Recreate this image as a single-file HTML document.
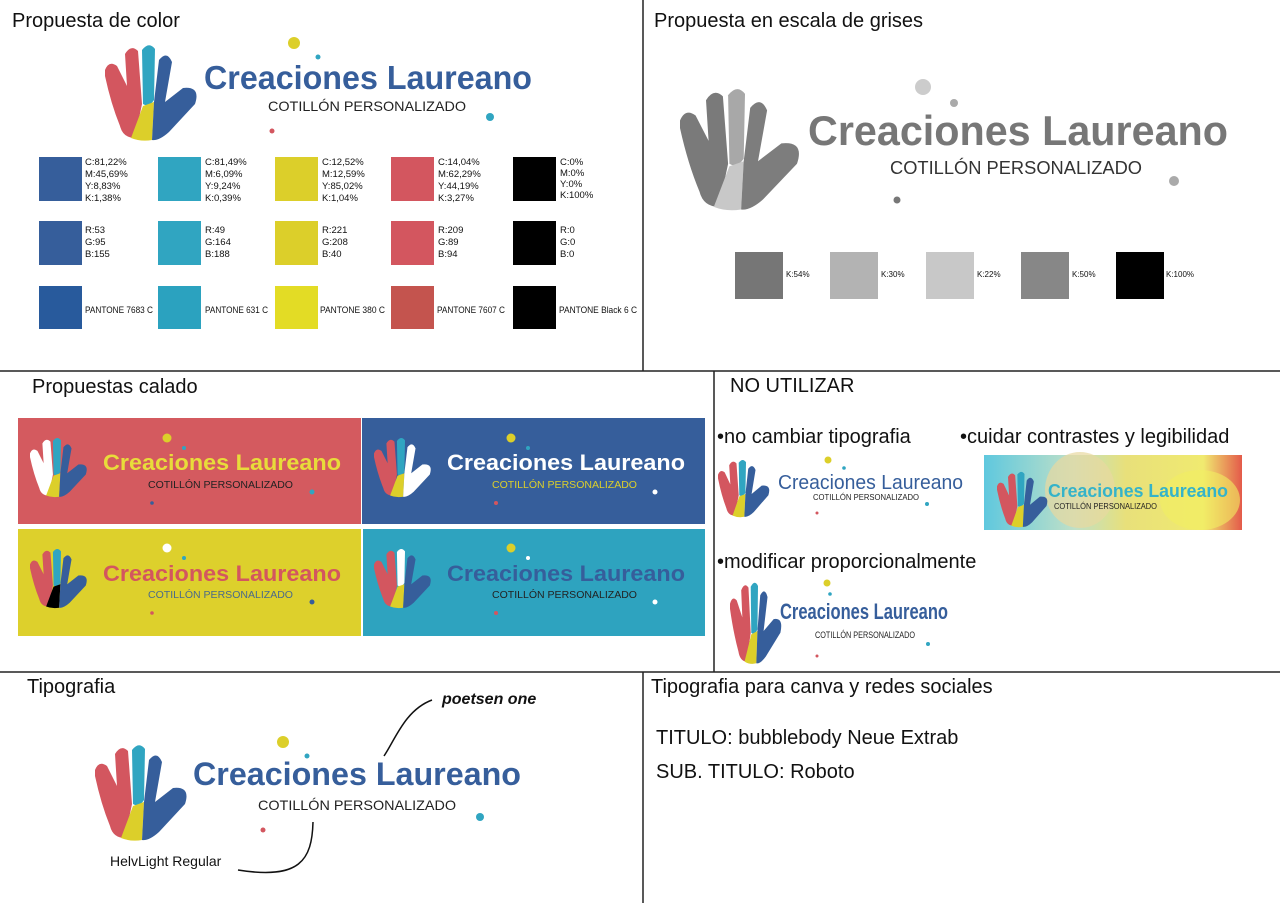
<!DOCTYPE html>
<html><head><meta charset="utf-8"><style>
html,body{margin:0;padding:0;background:#fff}
svg{display:block}
text{font-family:"Liberation Sans",sans-serif}
.h{font-size:20px;fill:#111}
.s{font-size:9.5px;fill:#111}
.t{font-weight:bold}
</style></head><body>
<svg width="1280" height="903" viewBox="0 0 1280 903" xmlns="http://www.w3.org/2000/svg">
<defs>
<symbol id="hand" viewBox="0 0 100 100" preserveAspectRatio="none">
<path style="fill:var(--r,#d3565f)" d="M0,28 Q4,18 12,24 L22,44 L20,12 Q26,2 33,9 L37,62 L30,96 Q18,96 15,84 Q6,62 0,34 Z"/>
<path style="fill:var(--c,#30a5c1)" d="M37,8 Q44,-1 50,7 L49,58 Q44,66 38,62 Z"/>
<path style="fill:var(--y,#dccf2a)" d="M38,64 L49,60 L47,98 Q36,100 26,96 Z"/>
<path style="fill:var(--b,#365e9b)" d="M54,18 Q62,8 67,20 L60,60 L78,46 Q96,44 90,62 L64,90 Q54,99 47,98 L49,60 Z"/>
</symbol>
<linearGradient id="pic" x1="0" x2="1" y1="0" y2="0"><stop offset="0" stop-color="#5fc8de"/><stop offset="0.35" stop-color="#bfe0c8"/><stop offset="0.55" stop-color="#e8e07a"/><stop offset="0.85" stop-color="#f0ea70"/><stop offset="1" stop-color="#e45a4a"/></linearGradient>
</defs>

<g stroke="#222" stroke-width="1.5">
<line x1="643" y1="0" x2="643" y2="371"/>
<line x1="0" y1="371" x2="1280" y2="371"/>
<line x1="714" y1="371" x2="714" y2="672"/>
<line x1="0" y1="672" x2="1280" y2="672"/>
<line x1="643" y1="672" x2="643" y2="903"/>
</g>

<text class="h" x="12" y="27">Propuesta de color</text>
<text class="h" x="654" y="27">Propuesta en escala de grises</text>
<text class="h" x="32" y="393">Propuestas calado</text>
<text class="h" x="730" y="392">NO UTILIZAR</text>
<text class="h" x="717" y="443" font-size="19">•no cambiar tipografia</text>
<text class="h" x="960" y="443" font-size="19">•cuidar contrastes y legibilidad</text>
<text class="h" x="717" y="568" font-size="19">•modificar proporcionalmente</text>
<text class="h" x="27" y="693">Tipografia</text>
<text class="h" x="651" y="693">Tipografia para canva y redes sociales</text>

<use href="#hand" x="105" y="42" width="100" height="100"/>
<text class="t" x="204" y="89" font-size="33" fill="#365e9b" textLength="328" lengthAdjust="spacingAndGlyphs">Creaciones Laureano</text>
<text x="268" y="111" font-size="14" fill="#222" textLength="198" lengthAdjust="spacingAndGlyphs">COTILLÓN PERSONALIZADO</text>
<circle cx="294" cy="43" r="6" fill="#dccf2a"/><circle cx="318" cy="57" r="2.5" fill="#30a5c1"/><circle cx="490" cy="117" r="4" fill="#30a5c1"/><circle cx="272" cy="131" r="2.5" fill="#d3565f"/>

<g>
<rect x="39" y="157" width="43" height="44" fill="#365e9b"/><rect x="39" y="221" width="43" height="44" fill="#365e9b"/><rect x="39" y="286" width="43" height="43" fill="#285a9c"/>
<rect x="158" y="157" width="43" height="44" fill="#30a5c1"/><rect x="158" y="221" width="43" height="44" fill="#30a5c1"/><rect x="158" y="286" width="43" height="43" fill="#2ba2bf"/>
<rect x="275" y="157" width="43" height="44" fill="#dccf2a"/><rect x="275" y="221" width="43" height="44" fill="#dccf2a"/><rect x="275" y="286" width="43" height="43" fill="#e3dc25"/>
<rect x="391" y="157" width="43" height="44" fill="#d3565f"/><rect x="391" y="221" width="43" height="44" fill="#d3565f"/><rect x="391" y="286" width="43" height="43" fill="#c4544e"/>
<rect x="513" y="157" width="43" height="44" fill="#000"/><rect x="513" y="221" width="43" height="44" fill="#000"/><rect x="513" y="286" width="43" height="43" fill="#000"/>
</g>
<text class="s" x="85" y="165">C:81,22%</text><text class="s" x="85" y="177">M:45,69%</text><text class="s" x="85" y="189">Y:8,83%</text><text class="s" x="85" y="201">K:1,38%</text>
<text class="s" x="205" y="165">C:81,49%</text><text class="s" x="205" y="177">M:6,09%</text><text class="s" x="205" y="189">Y:9,24%</text><text class="s" x="205" y="201">K:0,39%</text>
<text class="s" x="322" y="165">C:12,52%</text><text class="s" x="322" y="177">M:12,59%</text><text class="s" x="322" y="189">Y:85,02%</text><text class="s" x="322" y="201">K:1,04%</text>
<text class="s" x="438" y="165">C:14,04%</text><text class="s" x="438" y="177">M:62,29%</text><text class="s" x="438" y="189">Y:44,19%</text><text class="s" x="438" y="201">K:3,27%</text>
<text class="s" x="560" y="165" font-size="9">C:0%</text><text class="s" x="560" y="176" font-size="9">M:0%</text><text class="s" x="560" y="187" font-size="9">Y:0%</text><text class="s" x="560" y="198" font-size="9">K:100%</text>
<text class="s" x="85" y="233">R:53</text><text class="s" x="85" y="245">G:95</text><text class="s" x="85" y="257">B:155</text>
<text class="s" x="205" y="233">R:49</text><text class="s" x="205" y="245">G:164</text><text class="s" x="205" y="257">B:188</text>
<text class="s" x="322" y="233">R:221</text><text class="s" x="322" y="245">G:208</text><text class="s" x="322" y="257">B:40</text>
<text class="s" x="438" y="233">R:209</text><text class="s" x="438" y="245">G:89</text><text class="s" x="438" y="257">B:94</text>
<text class="s" x="560" y="233">R:0</text><text class="s" x="560" y="245">G:0</text><text class="s" x="560" y="257">B:0</text>
<text class="s" x="85" y="313" font-size="8.5" textLength="68" lengthAdjust="spacingAndGlyphs">PANTONE 7683 C</text>
<text class="s" x="205" y="313" font-size="8.5" textLength="63" lengthAdjust="spacingAndGlyphs">PANTONE 631 C</text>
<text class="s" x="320" y="313" font-size="8.5" textLength="65" lengthAdjust="spacingAndGlyphs">PANTONE 380 C</text>
<text class="s" x="437" y="313" font-size="8.5" textLength="68" lengthAdjust="spacingAndGlyphs">PANTONE 7607 C</text>
<text class="s" x="559" y="313" font-size="8.5" textLength="78" lengthAdjust="spacingAndGlyphs">PANTONE Black 6 C</text>

<use href="#hand" x="680" y="85" width="130" height="127" style="--r:#7a7a7a;--c:#a8a8a8;--y:#c8c8c8;--b:#7d7d7d"/>
<text class="t" x="808" y="145" font-size="42" fill="#777" textLength="420" lengthAdjust="spacingAndGlyphs">Creaciones Laureano</text>
<text x="890" y="174" font-size="18" fill="#333" textLength="252" lengthAdjust="spacingAndGlyphs">COTILLÓN PERSONALIZADO</text>
<circle cx="923" cy="87" r="8" fill="#ccc"/><circle cx="954" cy="103" r="4" fill="#aaa"/><circle cx="1174" cy="181" r="5" fill="#aaa"/><circle cx="897" cy="200" r="3.5" fill="#777"/>
<rect x="735" y="252" width="48" height="47" fill="#767676"/><text x="786" y="277" font-size="8" fill="#111">K:54%</text>
<rect x="830" y="252" width="48" height="47" fill="#b3b3b3"/><text x="881" y="277" font-size="8" fill="#111">K:30%</text>
<rect x="926" y="252" width="48" height="47" fill="#c8c8c8"/><text x="977" y="277" font-size="8" fill="#111">K:22%</text>
<rect x="1021" y="252" width="48" height="47" fill="#878787"/><text x="1072" y="277" font-size="8" fill="#111">K:50%</text>
<rect x="1116" y="252" width="48" height="47" fill="#000"/><text x="1166" y="277" font-size="8" fill="#111">K:100%</text>

<rect x="18" y="418" width="343" height="106" fill="#d45a5f"/>
<rect x="362" y="418" width="343" height="106" fill="#365e9b"/>
<rect x="18" y="529" width="343" height="107" fill="#ddd02c"/>
<rect x="363" y="529" width="342" height="107" fill="#2ea3bf"/>

<use href="#hand" x="30" y="436" width="62" height="62" style="--r:#fff"/>
<text class="t" x="103" y="470" font-size="22" fill="#e8dc3a" textLength="238" lengthAdjust="spacingAndGlyphs">Creaciones Laureano</text>
<text x="148" y="488" font-size="10" fill="#222" textLength="145" lengthAdjust="spacingAndGlyphs">COTILLÓN PERSONALIZADO</text>
<circle cx="167" cy="438" r="4.5" fill="#dccf2a"/><circle cx="184" cy="448" r="2" fill="#30a5c1"/><circle cx="312" cy="492" r="2.5" fill="#30a5c1"/><circle cx="152" cy="503" r="1.8" fill="#365e9b"/>

<use href="#hand" x="374" y="436" width="62" height="62" style="--b:#fff"/>
<text class="t" x="447" y="470" font-size="22" fill="#fff" textLength="238" lengthAdjust="spacingAndGlyphs">Creaciones Laureano</text>
<text x="492" y="488" font-size="10" fill="#dccf2a" textLength="145" lengthAdjust="spacingAndGlyphs">COTILLÓN PERSONALIZADO</text>
<circle cx="511" cy="438" r="4.5" fill="#dccf2a"/><circle cx="528" cy="448" r="2" fill="#30a5c1"/><circle cx="655" cy="492" r="2.5" fill="#fff"/><circle cx="496" cy="503" r="2" fill="#d3565f"/>

<use href="#hand" x="30" y="547" width="62" height="62" style="--y:#000"/>
<text class="t" x="103" y="581" font-size="22" fill="#d3565f" textLength="238" lengthAdjust="spacingAndGlyphs">Creaciones Laureano</text>
<text x="148" y="598" font-size="10" fill="#4a6a8a" textLength="145" lengthAdjust="spacingAndGlyphs">COTILLÓN PERSONALIZADO</text>
<circle cx="167" cy="548" r="4.5" fill="#fff"/><circle cx="184" cy="558" r="2" fill="#30a5c1"/><circle cx="312" cy="602" r="2.5" fill="#365e9b"/><circle cx="152" cy="613" r="1.8" fill="#d3565f"/>

<use href="#hand" x="374" y="547" width="62" height="62" style="--c:#fff"/>
<text class="t" x="447" y="581" font-size="22" fill="#365e9b" textLength="238" lengthAdjust="spacingAndGlyphs">Creaciones Laureano</text>
<text x="492" y="598" font-size="10" fill="#222" textLength="145" lengthAdjust="spacingAndGlyphs">COTILLÓN PERSONALIZADO</text>
<circle cx="511" cy="548" r="4.5" fill="#dccf2a"/><circle cx="528" cy="558" r="2" fill="#fff"/><circle cx="655" cy="602" r="2.5" fill="#fff"/><circle cx="496" cy="613" r="2" fill="#d3565f"/>

<use href="#hand" x="718" y="458" width="56" height="60"/>
<text x="778" y="489" font-size="20" fill="#365e9b" textLength="185" lengthAdjust="spacingAndGlyphs">Creaciones Laureano</text>
<text x="813" y="500" font-size="8" fill="#222" textLength="106" lengthAdjust="spacingAndGlyphs">COTILLÓN PERSONALIZADO</text>
<circle cx="828" cy="460" r="3.5" fill="#dccf2a"/><circle cx="844" cy="468" r="1.8" fill="#30a5c1"/><circle cx="927" cy="504" r="2" fill="#30a5c1"/><circle cx="817" cy="513" r="1.5" fill="#d3565f"/>

<rect x="984" y="455" width="258" height="75" fill="url(#pic)"/>
<ellipse cx="1080" cy="490" rx="35" ry="38" fill="#e8d9a0" opacity="0.7"/>
<ellipse cx="1200" cy="500" rx="40" ry="30" fill="#f2ee60" opacity="0.6"/>
<use href="#hand" x="997" y="470" width="55" height="58"/>
<text class="t" x="1048" y="497" font-size="18" fill="#35b3c9" textLength="180" lengthAdjust="spacingAndGlyphs">Creaciones Laureano</text>
<text x="1054" y="509" font-size="8" fill="#222" textLength="103" lengthAdjust="spacingAndGlyphs">COTILLÓN PERSONALIZADO</text>

<use href="#hand" x="730" y="580" width="56" height="85"/>
<text class="t" x="780" y="619" font-size="22" fill="#365e9b" textLength="168" lengthAdjust="spacingAndGlyphs">Creaciones Laureano</text>
<text x="815" y="638" font-size="9" fill="#222" textLength="100" lengthAdjust="spacingAndGlyphs">COTILLÓN PERSONALIZADO</text>
<circle cx="827" cy="583" r="3.5" fill="#dccf2a"/><circle cx="830" cy="594" r="1.8" fill="#30a5c1"/><circle cx="928" cy="644" r="2" fill="#30a5c1"/><circle cx="817" cy="656" r="1.5" fill="#d3565f"/>

<use href="#hand" x="95" y="742" width="100" height="100"/>
<text class="t" x="193" y="785" font-size="32" fill="#365e9b" textLength="328" lengthAdjust="spacingAndGlyphs">Creaciones Laureano</text>
<text x="258" y="810" font-size="14" fill="#222" textLength="198" lengthAdjust="spacingAndGlyphs">COTILLÓN PERSONALIZADO</text>
<circle cx="283" cy="742" r="6" fill="#dccf2a"/><circle cx="307" cy="756" r="2.5" fill="#30a5c1"/><circle cx="480" cy="817" r="4" fill="#30a5c1"/><circle cx="263" cy="830" r="2.5" fill="#d3565f"/>
<text x="442" y="704" font-size="16" font-weight="bold" font-style="italic" fill="#111">poetsen one</text>
<path d="M384,756 C395,740 405,710 432,700" fill="none" stroke="#111" stroke-width="1.5"/>
<text x="110" y="866" font-size="14" fill="#111">HelvLight Regular</text>
<path d="M238,870 C300,880 312,860 313,822" fill="none" stroke="#111" stroke-width="1.5"/>

<text x="656" y="744" font-size="20" fill="#111">TITULO: bubblebody Neue Extrab</text>
<text x="656" y="778" font-size="20" fill="#111">SUB. TITULO: Roboto</text>
</svg>
</body></html>
